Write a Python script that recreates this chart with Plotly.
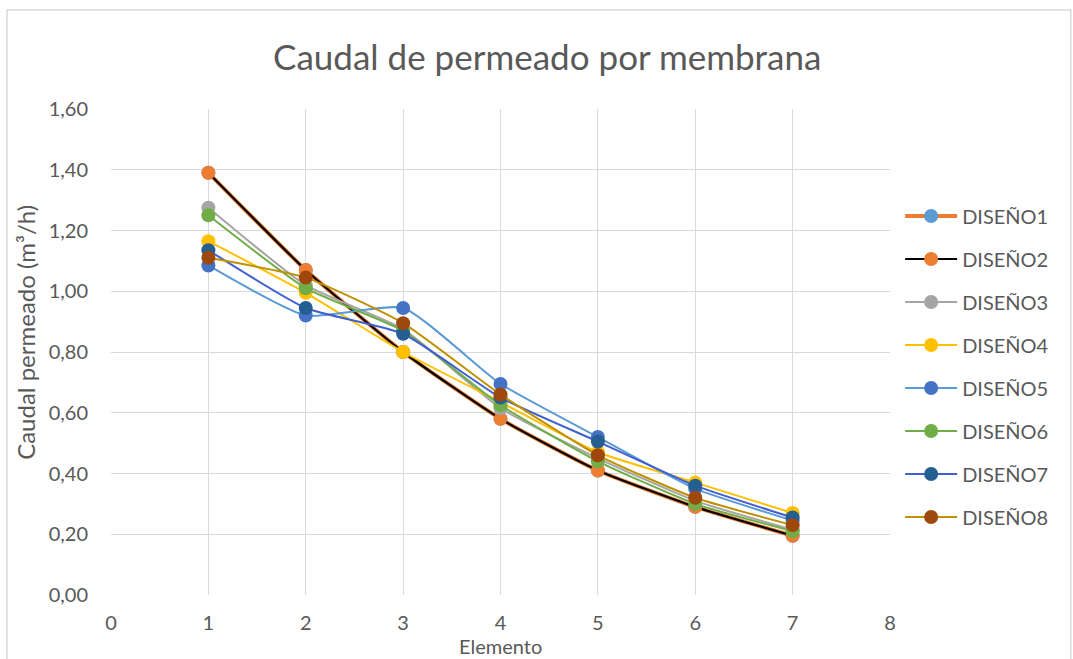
import plotly.graph_objects as go

elemento = [1, 2, 3, 4, 5, 6, 7]

diseno1 = [1.39, 1.07, 0.80, 0.58, 0.41, 0.29, 0.195]
diseno2 = [1.39, 1.07, 0.80, 0.58, 0.41, 0.29, 0.195]
diseno3 = [1.275, 1.02, 0.875, 0.615, 0.45, 0.31, 0.215]
diseno4 = [1.165, 0.995, 0.80, 0.635, 0.47, 0.37, 0.27]
diseno5 = [1.085, 0.92, 0.945, 0.695, 0.52, 0.35, 0.245]
diseno6 = [1.25, 1.01, 0.87, 0.625, 0.44, 0.30, 0.21]
diseno7 = [1.135, 0.945, 0.86, 0.65, 0.505, 0.36, 0.255]
diseno8 = [1.11, 1.045, 0.895, 0.66, 0.46, 0.32, 0.23]

names = ["DISEÑO1", "DISEÑO2", "DISEÑO3", "DISEÑO4",
         "DISEÑO5", "DISEÑO6", "DISEÑO7", "DISEÑO8"]
series = [diseno1, diseno2, diseno3, diseno4,
          diseno5, diseno6, diseno7, diseno8]

line_colors = ["#ED7D31", "#000000", "#A5A5A5", "#FFC000",
               "#5B9BD5", "#70AD47", "#4060D0", "#BF9000"]
line_widths = [4, 2.2, 2, 2, 2, 2, 2, 2]
marker_colors = ["#5B9BD5", "#ED7D31", "#A5A5A5", "#FFC000",
                 "#4472C4", "#70AD47", "#255E91", "#9E480E"]

fig = go.Figure()
for i, (nm, ys) in enumerate(zip(names, series)):
    fig.add_trace(go.Scatter(
        x=elemento, y=ys, name=nm, mode="lines+markers",
        legendgroup=nm,
        line=dict(color=line_colors[i], width=line_widths[i],
                  shape="spline", smoothing=0.5),
        marker=dict(color=marker_colors[i], size=14),
    ))

grid = "#D9D9D9"
txt = "#595959"
font_family = "Lato, 'Open Sans', sans-serif"

fig.update_layout(
    width=1073, height=659,
    separators=",.",
    paper_bgcolor="white", plot_bgcolor="white",
    margin=dict(l=111, r=183, t=109, b=64),
    font=dict(family=font_family, color=txt, size=20),
    title=dict(text="Caudal de permeado por membrana",
               x=0.51, xanchor="center", xref="container",
               y=0.912, yanchor="middle", yref="container",
               font=dict(size=35, color=txt, family=font_family)),
    xaxis=dict(range=[0, 8], dtick=1, tick0=0, showgrid=True,
               gridcolor=grid, gridwidth=1, zeroline=False,
               showline=False, ticks="", ticklabelstandoff=14,
               tickfont=dict(size=20, color=txt)),
    yaxis=dict(range=[0, 1.6], dtick=0.2, tick0=0, tickformat=".2f",
               showgrid=True, gridcolor=grid, gridwidth=1,
               zeroline=False, showline=False, ticks="",
               ticklabelstandoff=22,
               tickfont=dict(size=20, color=txt)),
    legend=dict(x=1.013, xanchor="left", y=0.82, yanchor="top",
                tracegroupgap=14, itemwidth=52,
                font=dict(size=20, color=txt),
                bgcolor="rgba(0,0,0,0)"),
    annotations=[
        dict(text="Elemento", xref="paper", yref="paper",
             x=0.5, y=-0.104, xanchor="center", yanchor="middle",
             showarrow=False, font=dict(size=20, color=txt)),
        dict(text="Caudal permeado (m³/h)", xref="paper", yref="paper",
             x=-0.11, y=0.54, xanchor="center", yanchor="middle",
             textangle=-90, showarrow=False,
             font=dict(size=24, color=txt)),
    ],
    shapes=[dict(type="rect", xref="paper", yref="paper",
                 x0=-0.1335, x1=1.232, y0=-0.138, y1=1.2037,
                 line=dict(color="#D9D9D9", width=1.5))],
    showlegend=True,
)

fig.write_html("out.html")
